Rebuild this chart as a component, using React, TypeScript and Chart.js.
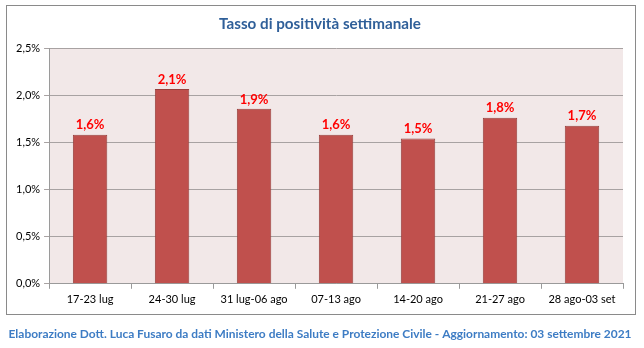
import React, { useEffect, useRef } from "react";
import { Chart, registerables } from "chart.js";

Chart.register(...registerables);

const categories = ["17-23 lug", "24-30 lug", "31 lug-06 ago", "07-13 ago", "14-20 ago", "21-27 ago", "28 ago-03 set"];
const positivity = [1.58, 2.066, 1.855, 1.58, 1.54, 1.76, 1.676];
const yTicks = [0, 0.5, 1.0, 1.5, 2.0, 2.5];
const titleText = "Tasso di positività settimanale";
const footerText = "Elaborazione Dott. Luca Fusaro da dati Ministero della Salute e Protezione Civile - Aggiornamento: 03 settembre 2021";

const FONT = "Lato, 'Open Sans', sans-serif";
const fmt = (v: number) => v.toFixed(1).replace(".", ",") + "%";

function fitText(ctx: CanvasRenderingContext2D, text: string, base: number, width: number) {
  ctx.font = `bold ${base}px ${FONT}`;
  const w = ctx.measureText(text).width;
  const size = (base * width) / w;
  ctx.font = `bold ${size}px ${FONT}`;
}

export default function App() {
  const ref = useRef<HTMLCanvasElement | null>(null);
  useEffect(() => {
    document.body.style.margin = "0";
    const canvas = ref.current!;
    const decor = {
      id: "decor",
      beforeDraw(chart: any) {
        const { ctx, chartArea } = chart;
        ctx.save();
        ctx.fillStyle = "#ffffff";
        ctx.fillRect(0, 0, chart.width, chart.height);
        ctx.strokeStyle = "#8a8a8a";
        ctx.lineWidth = 1;
        ctx.strokeRect(6.5, 5.5, 629, 309);
        ctx.fillStyle = "#f2e8e8";
        ctx.fillRect(chartArea.left, chartArea.top, chartArea.right - chartArea.left, chartArea.bottom - chartArea.top);
        ctx.textAlign = "center";
        ctx.textBaseline = "middle";
        ctx.fillStyle = "#2f5f99";
        fitText(ctx, titleText, 16, 202);
        ctx.fillText(titleText, 320, 24);
        ctx.fillStyle = "#3d7cc4";
        fitText(ctx, footerText, 12, 624);
        ctx.fillText(footerText, 320, 334);
        ctx.restore();
      },
      afterDatasetsDraw(chart: any) {
        const { ctx } = chart;
        const meta = chart.getDatasetMeta(0);
        ctx.save();
        ctx.fillStyle = "#ff0000";
        ctx.font = `bold 13px ${FONT}`;
        ctx.textAlign = "center";
        ctx.textBaseline = "bottom";
        meta.data.forEach((bar: any, i: number) => {
          ctx.fillText(fmt(positivity[i]), bar.x, bar.y - 3);
        });
        ctx.restore();
      },
    };
    const chart = new Chart(canvas, {
      type: "bar",
      data: {
        labels: categories,
        datasets: [
          {
            data: positivity,
            backgroundColor: "#c0504d",
            borderColor: "#98403d",
            borderWidth: 1,
            categoryPercentage: 1,
            barPercentage: 0.42,
          },
        ],
      },
      options: {
        animation: false,
        responsive: false,
        devicePixelRatio: 1,
        layout: { padding: { left: 12, right: 21, top: 48, bottom: 38 } },
        plugins: {
          legend: { display: false },
          title: { display: false },
          tooltip: { enabled: false },
        },
        scales: {
          x: {
            grid: { offset: true, drawOnChartArea: false, drawTicks: true, tickLength: 5, color: "#9a9a9a" },
            border: { color: "#9a9a9a" },
            ticks: { color: "#000", font: { family: FONT, size: 11 }, padding: 4, maxRotation: 0 },
          },
          y: {
            min: 0,
            max: 2.5,
            afterBuildTicks(axis: any) {
              axis.ticks = yTicks.map((v) => ({ value: v }));
            },
            grid: { color: "#a8a2a2", drawTicks: true, tickLength: 5 },
            border: { color: "#9a9a9a" },
            ticks: {
              color: "#000",
              font: { family: FONT, size: 11 },
              padding: 4,
              callback: (v: any) => fmt(Number(v)),
            },
          },
        },
      },
      plugins: [decor],
    });
    return () => chart.destroy();
  }, []);
  return <canvas ref={ref} width={644} height={348} style={{ display: "block" }} />;
}
